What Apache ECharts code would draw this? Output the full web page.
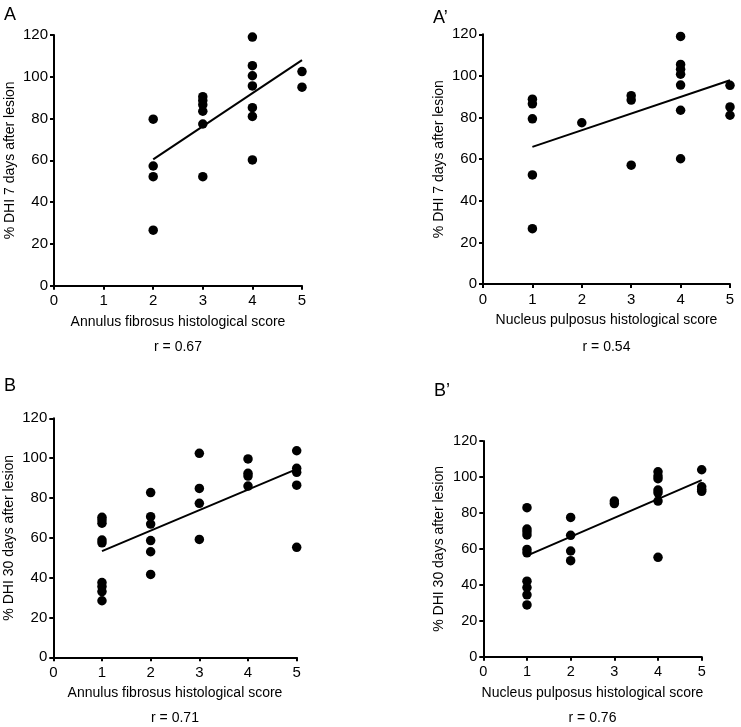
<!DOCTYPE html>
<html>
<head>
<meta charset="utf-8">
<script src="https://cdn.jsdelivr.net/npm/echarts@6/dist/echarts.min.js"></script>
<style>
html,body{margin:0;padding:0;background:#fff;}
#c{width:741px;height:727px;}
</style>
</head>
<body>
<div id="c"></div>
<script>
// ---- data (score, % DHI) ----
const panelA_points = [[2,79.7],[2,57.3],[2,52.2],[2,26.6],
  [3,90.5],[3,88.6],[3,86.6],[3,83.5],[3,77.4],[3,52.2],
  [4,119],[4,105.3],[4,100.5],[4,95.6],[4,85.2],[4,81],[4,60.2],
  [5,102.5],[5,95]];
const panelA_trend = [[2,60.5],[5,108]];

const panelA2_points = [[1,88.8],[1,86.6],[1,79.4],[1,52.4],[1,26.6],
  [2,77.5],
  [3,90.5],[3,88.4],[3,57.1],
  [4,119],[4,105.5],[4,103.2],[4,100.8],[4,95.6],[4,83.5],[4,60.2],
  [5,95.5],[5,85.1],[5,81.1]];
const panelA2_trend = [[1,65.9],[5,97.9]];

const panelB_points = [[1,70.3],[1,68.9],[1,67.3],[1,58.9],[1,57.5],[1,37.5],[1,35.5],[1,33],[1,28.4],
  [2,82.7],[2,70.6],[2,66.9],[2,58.6],[2,53],[2,41.6],
  [3,102.4],[3,84.8],[3,77.3],[3,59.2],
  [4,99.6],[4,92.4],[4,91],[4,86],
  [5,103.7],[5,94.9],[5,92.9],[5,86.4],[5,55.2]];
const panelB_trend = [[1,53.3],[5,94.5]];

const panelB2_points = [[1,82.9],[1,71],[1,69.5],[1,67.7],[1,59.7],[1,57.8],[1,42],[1,38.5],[1,34.4],[1,28.8],
  [2,77.5],[2,67.5],[2,58.8],[2,53.4],
  [3,86.6],[3,85.2],
  [4,102.9],[4,100.5],[4,99],[4,92.7],[4,91.2],[4,86.6],[4,55.3],
  [5,104],[5,94.5],[5,93],[5,92]];
const panelB2_trend = [[1,56.2],[5,98.2]];

const panelLetters = ['A', 'A\u2019', 'B', 'B\u2019'];
const xTitles = ['Annulus fibrosus histological score', 'Nucleus pulposus histological score',
                 'Annulus fibrosus histological score', 'Nucleus pulposus histological score'];
const yTitles = ['% DHI 7 days after lesion', '% DHI 7 days after lesion',
                 '% DHI 30 days after lesion', '% DHI 30 days after lesion'];
const rLabels = ['r = 0.67', 'r = 0.54', 'r = 0.71', 'r = 0.76'];
const xTicks = [0, 5, 1];   // min, max, interval
const yTicks = [0, 120, 20];

// ---- layout ----
const grids = [
  {left: 54, top: 35, width: 248, height: 250.7},
  {left: 483, top: 34.3, width: 247, height: 249.7},
  {left: 53.3, top: 418.3, width: 243.4, height: 239},
  {left: 483.3, top: 441, width: 218.4, height: 215.7}
];
const letterPos = [[4, 6], [433, 9], [4, 377], [434, 382]];
const rPosY = [347, 347, 718, 718];
const tickFont = [15, 15, 15, 14.5];

const pts = [panelA_points, panelA2_points, panelB_points, panelB2_points];
const trends = [panelA_trend, panelA2_trend, panelB_trend, panelB2_trend];

const font = 'Liberation Sans, Arial, Helvetica, sans-serif';
const axisLine = {show: true, onZero: false, lineStyle: {color: '#000', width: 2}};
const axisTick = {show: true, length: 4, lineStyle: {color: '#000', width: 2}};

const xAxes = [], yAxes = [], series = [], graphics = [];
grids.forEach((g, i) => {
  xAxes.push({
    type: 'value', gridIndex: i, min: xTicks[0], max: xTicks[1], interval: xTicks[2],
    axisLine, axisTick, splitLine: {show: false},
    axisLabel: {color: '#000', fontSize: tickFont[i], fontFamily: font, margin: 8},
    name: xTitles[i], nameLocation: 'middle', nameGap: 29,
    nameTextStyle: {color: '#000', fontSize: 14, fontFamily: font}
  });
  yAxes.push({
    type: 'value', gridIndex: i, min: yTicks[0], max: yTicks[1], interval: yTicks[2],
    axisLine, axisTick, splitLine: {show: false},
    axisLabel: {color: '#000', fontSize: tickFont[i], fontFamily: font, margin: 6},
    name: yTitles[i], nameLocation: 'middle', nameGap: 37, nameRotate: 90,
    nameTextStyle: {color: '#000', fontSize: 14, fontFamily: font}
  });
  series.push({
    type: 'scatter', xAxisIndex: i, yAxisIndex: i, data: pts[i],
    symbol: 'circle', symbolSize: 9.5, itemStyle: {color: '#000', opacity: 1}, silent: true, z: 3
  });
  series.push({
    type: 'line', xAxisIndex: i, yAxisIndex: i, data: trends[i],
    symbol: 'none', lineStyle: {color: '#000', width: 2}, silent: true, z: 2
  });
  graphics.push({
    type: 'text', left: letterPos[i][0], top: letterPos[i][1],
    style: {text: panelLetters[i], fill: '#000', font: '18px ' + font}
  });
  graphics.push({
    type: 'text', x: g.left + g.width / 2, y: rPosY[i],
    style: {text: rLabels[i], fill: '#000', font: '14px ' + font, align: 'center', verticalAlign: 'middle'}
  });
});

const chart = echarts.init(document.getElementById('c'), null, {renderer: 'canvas'});
chart.setOption({
  animation: false,
  backgroundColor: '#fff',
  grid: grids.map(g => Object.assign({containLabel: false}, g)),
  xAxis: xAxes,
  yAxis: yAxes,
  series,
  graphic: graphics
});
</script>
</body>
</html>
